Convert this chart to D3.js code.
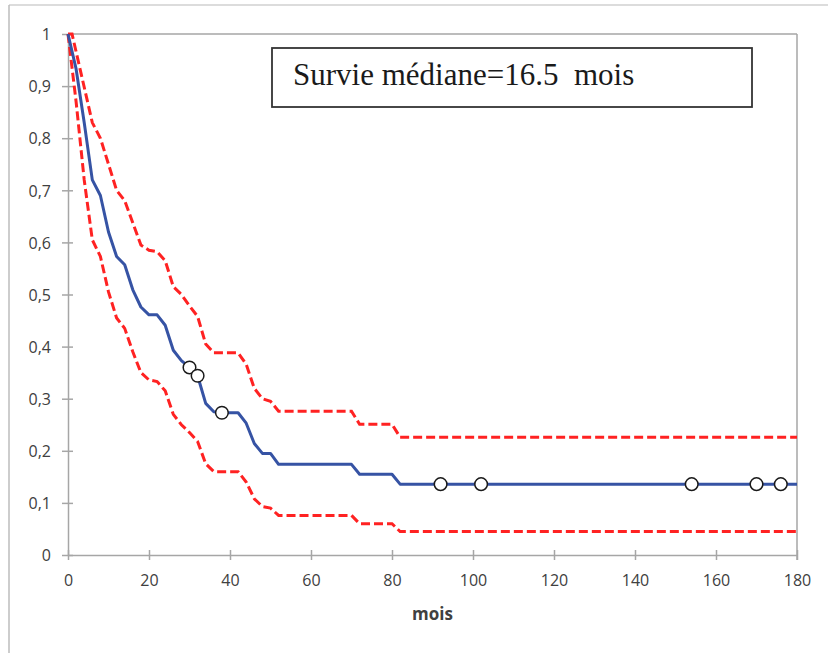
<!DOCTYPE html>
<html><head><meta charset="utf-8">
<script src="https://cdn.jsdelivr.net/npm/d3@7"></script>
<style>body{margin:0;background:#fff}svg{display:block}</style>
</head><body>
<svg id="c" width="834" height="653"></svg>
<script>
// ---- data ----
const months   = [0,2,4,6,8,10,12,14,16,18,20,22,24,26,28,30,32,34,36,38,42,44,46,48,50,52,70,72,80,82,180];
const survival = [1,0.933,0.83,0.72,0.69,0.62,0.573,0.557,0.509,0.476,0.461,0.461,0.441,0.393,0.373,0.36,0.344,0.291,0.275,0.273,0.273,0.253,0.214,0.195,0.195,0.174,0.174,0.155,0.155,0.136,0.136];
const upperMonths = [0,1,6,8,12,14,18,20,22,24,26,28,30,32,34,36,42,44,46,48,50,52,70,72,80,82,180];
const upperCI     = [1,1,0.83,0.80,0.70,0.68,0.595,0.585,0.582,0.565,0.515,0.50,0.478,0.458,0.405,0.388,0.388,0.366,0.32,0.30,0.295,0.276,0.276,0.251,0.251,0.226,0.226];
const lowerMonths = [0,2,4,6,8,10,12,14,16,18,20,22,24,26,28,30,32,34,36,42,44,46,48,50,52,70,72,80,82,180];
const lowerCI     = [1,0.87,0.72,0.605,0.573,0.505,0.455,0.435,0.39,0.35,0.336,0.333,0.315,0.27,0.25,0.235,0.218,0.175,0.16,0.16,0.14,0.108,0.093,0.09,0.076,0.076,0.06,0.06,0.045,0.045];
const censorMonths   = [30,32,38,92,102,154,170,176];
const censorSurvival = [0.36,0.344,0.273,0.136,0.136,0.136,0.136,0.136];
const xTicks = [0,20,40,60,80,100,120,140,160,180];
const yTicks = [0,0.1,0.2,0.3,0.4,0.5,0.6,0.7,0.8,0.9,1];
const yTickLabels = ["0","0,1","0,2","0,3","0,4","0,5","0,6","0,7","0,8","0,9","1"];
const xTitle = "mois";
const boxText = "Survie médiane=16.5  mois";

// ---- drawing ----
const svg = d3.select("#c");
const x = d3.scaleLinear().domain([0,180]).range([68,797]);
const y = d3.scaleLinear().domain([0,1]).range([555,34]);
const axisColor = "#A6A6A6";

// outer chart border (partially visible)
svg.append("line").attr("x1",9).attr("x2",828).attr("y1",5).attr("y2",5).attr("stroke","#D0D0D0").attr("stroke-width",1.5);
svg.append("line").attr("x1",9).attr("x2",9).attr("y1",5).attr("y2",653).attr("stroke","#BDBDBD").attr("stroke-width",1.5);

// plot frame top & right
svg.append("line").attr("x1",x(0)).attr("x2",x(180)).attr("y1",y(1)).attr("y2",y(1)).attr("stroke",axisColor).attr("stroke-width",1.5);
svg.append("line").attr("x1",x(180)).attr("x2",x(180)).attr("y1",y(1)).attr("y2",y(0)+5).attr("stroke",axisColor).attr("stroke-width",1.5);

// x axis
const gx = svg.append("g").attr("transform",`translate(0,${y(0)})`)
  .call(d3.axisBottom(x).tickValues(xTicks).tickSize(5).tickSizeOuter(0).tickPadding(0));
gx.select(".domain").attr("stroke",axisColor).attr("stroke-width",1.5);
gx.selectAll(".tick line").attr("y1",-5).attr("y2",5).attr("stroke",axisColor).attr("stroke-width",1.5);
gx.selectAll(".tick text").attr("y",31).attr("dy",0).attr("fill","#404040")
  .style("font-family","'Open Sans'").style("font-size","16px");

// y axis
const gy = svg.append("g").attr("transform",`translate(${x(0)},0)`)
  .call(d3.axisLeft(y).tickValues(yTicks).tickFormat((d,i)=>yTickLabels[i]).tickSize(5).tickSizeOuter(0).tickPadding(0));
gy.select(".domain").attr("stroke",axisColor).attr("stroke-width",1.5);
gy.selectAll(".tick line").attr("x1",-6).attr("x2",5).attr("stroke",axisColor).attr("stroke-width",1.5);
gy.selectAll(".tick text").attr("x",-17).attr("dy","0.36em").attr("fill","#404040")
  .style("font-family","'Open Sans'").style("font-size","16px");

// x title
svg.append("text").attr("x",(x(0)+x(180))/2).attr("y",620).attr("text-anchor","middle")
  .attr("fill","#404040").style("font-family","'Open Sans'").style("font-weight","bold").style("font-size","17px").text(xTitle);

// lines
const line = d3.line().x(d=>x(d[0])).y(d=>y(d[1]));
svg.append("path").datum(upperMonths.map((m,i)=>[m,upperCI[i]]))
  .attr("d",line).attr("fill","none").attr("stroke","#FF2222").attr("stroke-width",3).attr("stroke-dasharray","9,4");
svg.append("path").datum(lowerMonths.map((m,i)=>[m,lowerCI[i]]))
  .attr("d",line).attr("fill","none").attr("stroke","#FF2222").attr("stroke-width",3).attr("stroke-dasharray","9,4");
svg.append("path").datum(months.map((m,i)=>[m,survival[i]]))
  .attr("d",line).attr("fill","none").attr("stroke","#3653A4").attr("stroke-width",3).attr("stroke-linejoin","round");

// censor markers
svg.selectAll("circle.cens").data(censorMonths.map((m,i)=>[m,censorSurvival[i]])).enter()
  .append("circle").attr("class","cens").attr("cx",d=>x(d[0])).attr("cy",d=>y(d[1])).attr("r",6.3)
  .attr("fill","#fff").attr("stroke","#1a1a1a").attr("stroke-width",1.5);

// annotation box
svg.append("rect").attr("x",272).attr("y",48).attr("width",480).attr("height",59)
  .attr("fill","#fff").attr("stroke","#333").attr("stroke-width",1.8);
svg.append("text").attr("x",293).attr("y",85).attr("fill","#1a1a1a").style("white-space","pre")
  .style("font-family","'Liberation Serif'").style("font-size","31px").text(boxText);
</script>
</body></html>
